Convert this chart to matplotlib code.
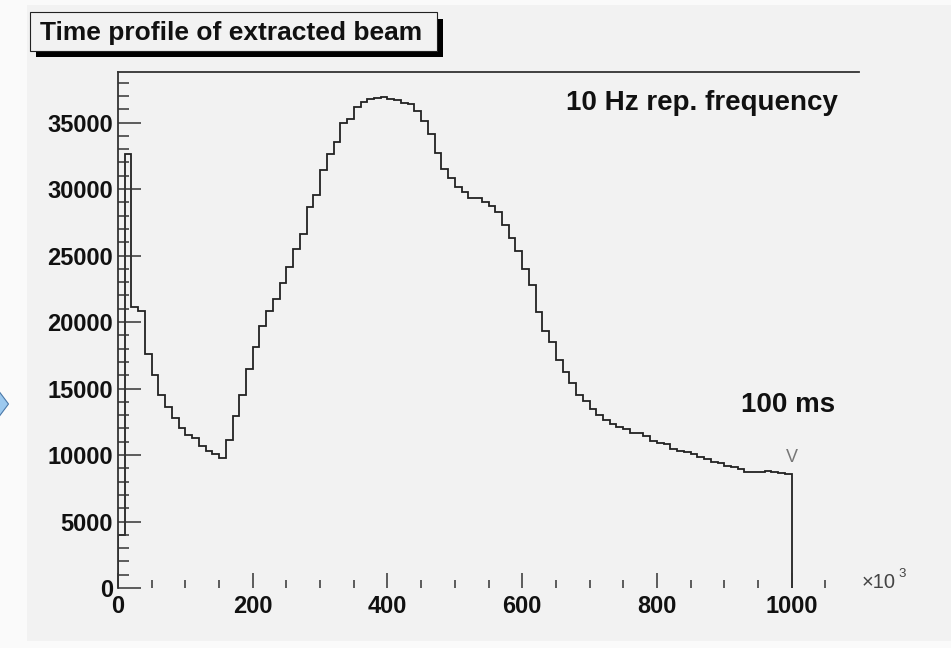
import numpy as np
import matplotlib
matplotlib.use("Agg")
import matplotlib.pyplot as plt
from matplotlib.patches import Rectangle, Polygon
from matplotlib.ticker import FixedLocator

# ---------------- data ----------------
bin_edges = np.arange(0, 1001, 10)          # x in units of 10^3
counts = [
    4000, 32600, 21150, 20800, 17620, 16040, 14490, 13590, 12810, 12010,
    11500, 11300, 10700, 10320, 10050, 9800, 11130, 12930, 14490, 16470,
    18120, 19720, 20850, 21710, 22910, 24160, 25490, 26590, 28670, 29550,
    31430, 32630, 33560, 35000, 35300, 36190, 36570, 36770, 36850, 36900,
    36800, 36670, 36440, 36370, 35870, 35110, 34140, 32730, 31500, 30850,
    30130, 29800, 29300, 29300, 29050, 28750, 28270, 27300, 26300, 25360,
    24000, 22780, 20730, 19350, 18480, 17140, 16260, 15390, 14510, 14080,
    13440, 13000, 12630, 12330, 12130, 11930, 11630, 11630, 11450, 11080,
    10880, 10830, 10450, 10300, 10200, 10075, 9870, 9680, 9450, 9375,
    9200, 9100, 8970, 8720, 8750, 8750, 8800, 8700, 8620, 8570,
]
x_major_ticks = [0, 200, 400, 600, 800, 1000]
x_minor_ticks = [50, 100, 150, 250, 300, 350, 450, 500, 550, 650, 700, 750,
                 850, 900, 950, 1050]
y_major_ticks = [0, 5000, 10000, 15000, 20000, 25000, 30000, 35000]
y_minor_ticks = [v for v in range(1000, 39000, 1000) if v % 5000 != 0]
title_text = "Time profile of extracted beam"
label_freq = "10 Hz rep. frequency"
label_ms = "100 ms"
marker_x, marker_y = 1000, 9810

# ---------------- style ----------------
plt.rcParams['font.family'] = ['Liberation Sans', 'DejaVu Sans']
plt.rcParams['font.weight'] = 'bold'

W, H = 951, 648
fig = plt.figure(figsize=(W / 100, H / 100), dpi=100, facecolor='#fafafa')

def fx(px):
    return px / W

def fy(py):
    return 1 - py / H

# canvas background
fig.patches.append(Rectangle((fx(27), fy(641)), 1 - fx(27), fy(5) - fy(641),
                             transform=fig.transFigure, facecolor='#f2f2f2',
                             edgecolor='none', zorder=-10))

# blue chevron artifact at left edge
fig.patches.append(Polygon([(fx(-2), fy(390)), (fx(8.5), fy(404)), (fx(-2), fy(418))],
                           closed=True, transform=fig.transFigure,
                           facecolor='#9cc9ef', edgecolor='#4a78a8', lw=0.8, zorder=-5))

ax = fig.add_axes([fx(118), fy(588), (859 - 118) / W, (588 - 72) / H])
ax.set_zorder(1)
ax.set_facecolor('#f2f2f2')
ax.set_xlim(0, 1100)
ax.set_ylim(0, 38800)

ax.stairs(counts, bin_edges, baseline=0, color='#222222', lw=1.3)

for s in ['bottom', 'right']:
    ax.spines[s].set_visible(False)
for s in ['left', 'top']:
    ax.spines[s].set_color('#333333')
    ax.spines[s].set_linewidth(1.3)

ax.set_xticks(x_major_ticks)
ax.set_yticks(y_major_ticks)
ax.xaxis.set_minor_locator(FixedLocator(x_minor_ticks))
ax.yaxis.set_minor_locator(FixedLocator(y_minor_ticks))

ax.tick_params(axis='y', which='major', direction='in', length=16.5, width=1.1,
               color='#333333', pad=3.5, labelsize=17)
ax.tick_params(axis='y', which='minor', direction='in', length=8, width=1.1,
               color='#333333')
ax.tick_params(axis='x', which='major', direction='in', length=10.5, width=1.1,
               color='#333333', pad=5, labelsize=17)
ax.tick_params(axis='x', which='minor', direction='in', length=6, width=1.1,
               color='#333333')
ax.tick_params(top=False, right=False)
for lbl in ax.get_xticklabels() + ax.get_yticklabels():
    lbl.set_fontweight('bold')
    lbl.set_color('#111111')

# annotations
fig.text(fx(838), fy(110), label_freq, ha='right', va='baseline',
         fontsize=20, weight='bold', color='#111111', zorder=5)
fig.text(fx(835), fy(412), label_ms, ha='right', va='baseline',
         fontsize=20, weight='bold', color='#111111', zorder=5)
ax.text(marker_x, marker_y, 'V', ha='center', va='center', fontsize=13,
        weight='normal', color='#777777')

# x10^3 label
fig.text(fx(862), fy(588), '\u00d710', ha='left', va='baseline', fontsize=14.5,
         weight='normal', color='#444444', zorder=5)
fig.text(fx(898), fy(577), '3', ha='left', va='baseline', fontsize=9.5,
         weight='normal', color='#444444', zorder=5)

# title box with shadow
fig.patches.append(Rectangle((fx(36), fy(57)), fx(443) - fx(36), fy(19) - fy(57),
                             transform=fig.transFigure, facecolor='black',
                             edgecolor='none', zorder=2))
fig.patches.append(Rectangle((fx(29.5), fy(50.5)), fx(437) - fx(29.5), fy(12) - fy(50.5),
                             transform=fig.transFigure, facecolor='#f2f2f2',
                             edgecolor='#222222', lw=0.8, zorder=3))
fig.text(fx(40), fy(40), title_text, ha='left', va='baseline', fontsize=19,
         weight='bold', color='#111111', zorder=4)

fig.savefig('out.png', dpi=100, facecolor=fig.get_facecolor())
